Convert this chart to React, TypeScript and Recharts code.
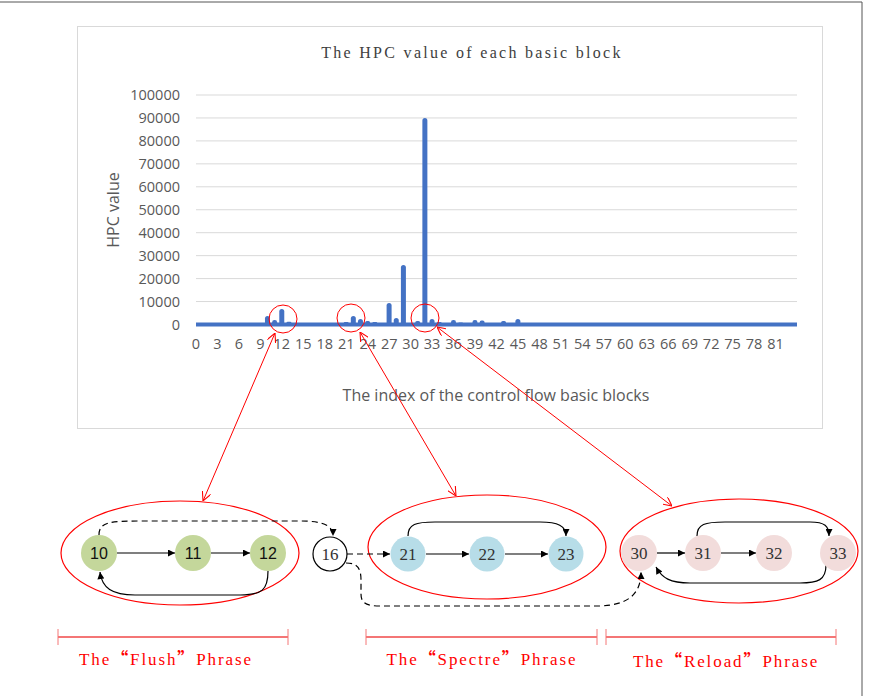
import {
  ComposedChart,
  Bar,
  XAxis,
  YAxis,
  CartesianGrid,
  ReferenceLine,
} from "recharts";

// index of the basic block (0..83)
const blockIndex = Array.from({ length: 84 }, (_, i) => i);

// HPC value per basic block
const hpcValues = [
  0, 0, 0, 0, 0, 0, 0, 0, 0, 0,
  3700, 2000, 6750, 1200, 0, 0, 0, 0, 0, 600,
  0, 1100, 3700, 2400, 1500, 1100, 0, 9400, 2800, 25900,
  0, 1500, 90000, 2400, 1100, 600, 2000, 900, 0, 2000,
  1700, 600, 600, 1500, 0, 2400, 0, 0, 0, 0,
  0, 0, 0, 0, 0, 0, 0, 0, 0, 0,
  0, 0, 0, 0, 0, 0, 0, 0, 0, 0,
  0, 0, 0, 0, 0, 0, 0, 0, 0, 0,
  0, 0, 0, 0,
];

const xTicks = blockIndex.filter((i) => i % 3 === 0 && i <= 81);
const yTicks = [0, 10000, 20000, 30000, 40000, 50000, 60000, 70000, 80000, 90000, 100000];

const data = blockIndex.map((index, i) => ({ index, hpc: hpcValues[i] }));

const flushNodes = ["10", "11", "12"];
const spectreNodes = ["21", "22", "23"];
const reloadNodes = ["30", "31", "32", "33"];

const BLUE = "#4472C4";
const RED = "#FF0000";

const tickStyle = { fontFamily: "Open Sans", fontSize: 14.5, fill: "#595959" };

const Node = ({ x, y, r, fill, label, serif, stroke }: any) => (
  <g>
    <circle cx={x} cy={y} r={r} fill={fill} stroke={stroke || "none"} strokeWidth={1.2} />
    <text
      x={x}
      y={y + 5.5}
      textAnchor="middle"
      fontFamily={serif ? "Liberation Serif" : "Liberation Sans"}
      fontSize={serif ? 17 : 16}
      fill={serif ? "#333" : "#111"}
    >
      {label}
    </text>
  </g>
);

const Phase = ({ x1, x2, y, name, tx, ty }: any) => (
  <g>
    <line x1={x1} x2={x2} y1={y} y2={y} stroke="#F47676" strokeWidth={2} />
    <line x1={x1} x2={x1} y1={y - 8} y2={y + 8} stroke="#F47676" strokeWidth={1} />
    <line x1={x2} x2={x2} y1={y - 8} y2={y + 8} stroke="#F47676" strokeWidth={1} />
    <text
      x={tx}
      y={ty}
      textAnchor="middle"
      fontFamily="Liberation Serif"
      fontSize={17}
      letterSpacing={1.9}
      fill={RED}
    >
      The
      <tspan fontFamily="Noto Sans CJK SC" fontWeight="bold">“</tspan>
      {name}
      <tspan fontFamily="Noto Sans CJK SC" fontWeight="bold">”</tspan>
      Phrase
    </text>
  </g>
);

export default function App() {
  return (
    <div style={{ position: "absolute", left: 0, top: 0, width: 875, height: 696, background: "#fff" }}>
      {/* chart frame */}
      <div
        style={{
          position: "absolute",
          left: 77,
          top: 26,
          width: 744,
          height: 401,
          border: "1px solid #d9d9d9",
        }}
      />
      <div
        style={{
          position: "absolute",
          left: 77,
          top: 44,
          width: 790,
          textAlign: "center",
          fontFamily: "Liberation Serif",
          fontSize: 16,
          letterSpacing: 2.3,
          color: "#404040",
        }}
      >
        The HPC value of each basic block
      </div>
      <div
        style={{
          position: "absolute",
          left: 63,
          top: 199,
          width: 100,
          textAlign: "center",
          transform: "rotate(-90deg)",
          fontFamily: "Open Sans",
          fontSize: 16,
          color: "#595959",
        }}
      >
        HPC value
      </div>
      <div
        style={{
          position: "absolute",
          left: 296,
          top: 384,
          width: 400,
          textAlign: "center",
          fontFamily: "Open Sans",
          fontSize: 16,
          color: "#595959",
        }}
      >
        The index of the control flow basic blocks
      </div>
      <div style={{ position: "absolute", left: 77, top: 26 }}>
        <ComposedChart
          width={745}
          height={402}
          data={data}
          margin={{ top: 69, right: 25, bottom: 73.5, left: 0 }}
        >
          <CartesianGrid vertical={false} stroke="#d9d9d9" />
          <XAxis
            dataKey="index"
            type="number"
            domain={[0, 84]}
            ticks={xTicks}
            interval={0}
            axisLine={false}
            tickLine={false}
            tickSize={0}
            tickMargin={14}
            height={30}
            tick={tickStyle}
          />
          <YAxis
            type="number"
            domain={[0, 100000]}
            ticks={yTicks}
            interval={0}
            axisLine={false}
            tickLine={false}
            tickSize={0}
            tickMargin={16}
            width={119}
            tick={tickStyle}
          />
          <Bar dataKey="hpc" fill={BLUE} barSize={5} radius={[2.5, 2.5, 0, 0]} isAnimationActive={false} />
          <ReferenceLine y={0} stroke={BLUE} strokeWidth={4} />
        </ComposedChart>
      </div>

      <svg
        width={875}
        height={696}
        style={{ position: "absolute", left: 0, top: 0, pointerEvents: "none" }}
      >
        <defs>
          <marker id="blk" viewBox="0 0 10 10" refX={10} refY={5} markerWidth={8} markerHeight={7} markerUnits="userSpaceOnUse" orient="auto">
            <path d="M0,0 L10,5 L0,10 z" fill="#000" />
          </marker>
          <marker id="red" viewBox="0 0 10 10" refX={10} refY={5} markerWidth={9} markerHeight={9} markerUnits="userSpaceOnUse" orient="auto-start-reverse">
            <path d="M0,0 L10,5 L0,10" fill="none" stroke={RED} strokeWidth={1.2} />
          </marker>
        </defs>

        {/* page border */}
        <line x1={0} x2={862} y1={2} y2={2} stroke="#555" strokeWidth={1} />
        <line x1={862} x2={862} y1={2} y2={696} stroke="#555" strokeWidth={1} />

        {/* highlight circles and links */}
        <circle cx={283} cy={319} r={14} fill="none" stroke={RED} strokeWidth={1} />
        <circle cx={351} cy={318} r={14} fill="none" stroke={RED} strokeWidth={1} />
        <circle cx={425} cy={318} r={14} fill="none" stroke={RED} strokeWidth={1} />
        <line x1={275} y1={333} x2={203} y2={501} stroke={RED} strokeWidth={1} markerStart="url(#red)" markerEnd="url(#red)" />
        <line x1={360} y1={332} x2={456} y2={496} stroke={RED} strokeWidth={1} markerStart="url(#red)" markerEnd="url(#red)" />
        <line x1={437} y1={327} x2={672} y2={506} stroke={RED} strokeWidth={1} markerStart="url(#red)" markerEnd="url(#red)" />

        {/* phase ellipses */}
        <ellipse cx={180} cy={553} rx={119} ry={52} fill="none" stroke={RED} strokeWidth={1.2} />
        <ellipse cx={487} cy={547} rx={119} ry={52} fill="none" stroke={RED} strokeWidth={1.2} />
        <ellipse cx={739} cy={551} rx={119} ry={52} fill="none" stroke={RED} strokeWidth={1.2} />

        {/* edges */}
        <g fill="none" stroke="#000" strokeWidth={1.2}>
          <path d="M117,553 L175,553" markerEnd="url(#blk)" />
          <path d="M211,553 L250,553" markerEnd="url(#blk)" />
          <path d="M268,571 C268,590 262,595 240,595 L135,595 C112,595 102,588 100,572" markerEnd="url(#blk)" />
          <path d="M99,535 C99,522 110,521 140,521 L300,521 C322,521 333,525 333,536" strokeDasharray="6 4" markerEnd="url(#blk)" />
          <path d="M347,554 L390,554" strokeDasharray="6 4" markerEnd="url(#blk)" />
          <path d="M426,554 L469,554" markerEnd="url(#blk)" />
          <path d="M505,554 L548,554" markerEnd="url(#blk)" />
          <path d="M408,536 C408,524 416,522 435,522 L540,522 C558,522 566,526 566,536" markerEnd="url(#blk)" />
          <path d="M346,563 C357,563 361,568 361,580 L361,594 C361,603 366,606 380,606 L600,606 C627,605 641,595 641,572" strokeDasharray="6 4" markerEnd="url(#blk)" />
          <path d="M657,553 L685,553" markerEnd="url(#blk)" />
          <path d="M721,553 L756,553" markerEnd="url(#blk)" />
          <path d="M697,536 C697,524 705,522 725,522 L810,522 C825,522 829,526 829,536" markerEnd="url(#blk)" />
          <path d="M826,565 C826,580 818,583 800,583 L690,583 C670,583 662,578 656,567" markerEnd="url(#blk)" />
        </g>

        {/* nodes */}
        {flushNodes.map((n, i) => (
          <Node key={n} x={[99, 193, 268][i]} y={553} r={18} fill="#C4D79B" label={n} />
        ))}
        <Node x={330} y={554} r={17} fill="#fff" stroke="#000" label="16" serif />
        {spectreNodes.map((n, i) => (
          <Node key={n} x={[408, 487, 566][i]} y={554} r={17.5} fill="#B7DDE8" label={n} serif />
        ))}
        {reloadNodes.map((n, i) => (
          <Node key={n} x={[639, 703, 774, 838][i]} y={553} r={18} fill="#F2DCDB" label={n} serif />
        ))}

        {/* phases */}
        <Phase x1={58} x2={288} y={637} tx={166} ty={665} name="Flush" />
        <Phase x1={366} x2={597} y={637} tx={482} ty={665} name="Spectre" />
        <Phase x1={606} x2={836} y={637} tx={726} ty={667} name="Reload" />
      </svg>
    </div>
  );
}
